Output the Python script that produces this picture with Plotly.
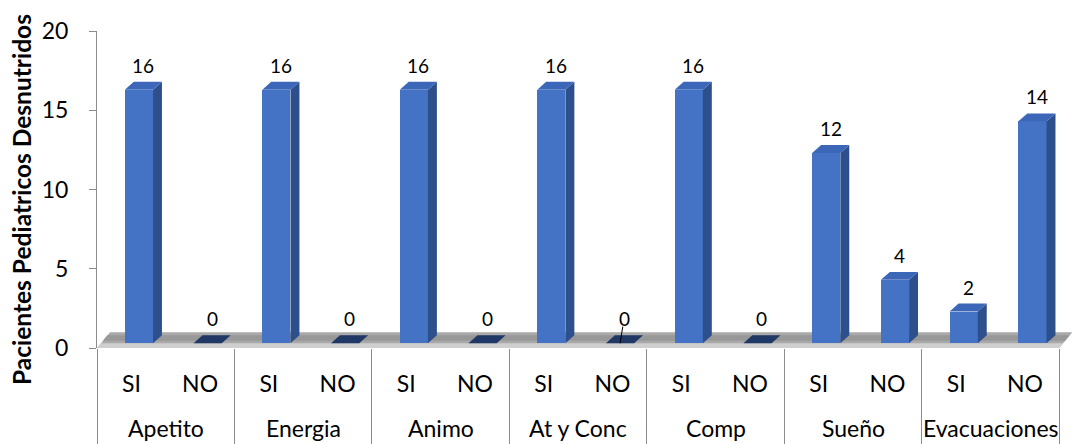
import plotly.graph_objects as go

# Survey answers per item (number of undernourished paediatric patients)
groups = ["Apetito", "Energia", "Animo", "At y Conc", "Comp", "Sueño", "Evacuaciones"]
answers = ["SI", "NO"]
si_values = [16, 16, 16, 16, 16, 12, 2]
no_values = [0, 0, 0, 0, 0, 4, 14]
y_ticks = [0, 5, 10, 15, 20]

FONT = "Lato"
FRONT = "#4472C4"
SIDE = "#2D4F8C"
TOP = "#3C67B8"
FLAT = "#1F3866"
AXIS_GREY = "#8C8C8C"

# pseudo 3-D geometry, in axis units
BAR_W = 0.41      # width of the front face
BAR_SHIFT = 0.11  # front face offset from the slot centre
DEPTH_X = 0.13    # extrusion to the right
DEPTH_Y = 0.5     # extrusion upwards
LIFT = 0.3        # bars stand on the floor, slightly above the front edge
FLOOR_DX = 0.19
FLOOR_DY = 1.0

positions, values, labels = [], [], []
for g in range(len(groups)):
    for k, ans in enumerate(answers):
        positions.append(2 * g + k)
        values.append((si_values, no_values)[k][g])
        labels.append(ans)

x_min = -0.5
x_max = len(positions) - 0.5

fig = go.Figure()

# front faces
fig.add_trace(go.Bar(
    x=[p + BAR_SHIFT for p in positions],
    y=values,
    base=LIFT,
    width=BAR_W,
    marker=dict(color=FRONT, line=dict(width=0)),
    hoverinfo="skip",
    showlegend=False,
))

shapes = []

# floor of the 3-D box
shapes.append(dict(
    type="path", xref="x", yref="y", layer="below", line=dict(width=0),
    fillcolor="#A9A9A9",
    path=f"M{x_min},0 L{x_max},0 L{x_max + FLOOR_DX},{FLOOR_DY} L{x_min + FLOOR_DX},{FLOOR_DY} Z",
))
shapes.append(dict(
    type="path", xref="x", yref="y", layer="below", line=dict(width=0),
    fillcolor="#989898",
    path=(f"M{x_min + FLOOR_DX * 0.45},{FLOOR_DY * 0.45} L{x_max + FLOOR_DX * 0.45},{FLOOR_DY * 0.45} "
          f"L{x_max + FLOOR_DX * 0.8},{FLOOR_DY * 0.8} L{x_min + FLOOR_DX * 0.8},{FLOOR_DY * 0.8} Z"),
))
shapes.append(dict(
    type="path", xref="x", yref="y", layer="below", line=dict(width=0),
    fillcolor="#CFCFCF",
    path=(f"M{x_min},0 L{x_max},0 L{x_max + FLOOR_DX * 0.3},{FLOOR_DY * 0.3} "
          f"L{x_min + FLOOR_DX * 0.3},{FLOOR_DY * 0.3} Z"),
))

annotations = []
for p, v in zip(positions, values):
    xl = p + BAR_SHIFT - BAR_W / 2
    xr = p + BAR_SHIFT + BAR_W / 2
    top = v + LIFT
    if v > 0:
        shapes.append(dict(
            type="path", xref="x", yref="y", layer="above", line=dict(width=0),
            fillcolor=SIDE,
            path=(f"M{xr},{LIFT} L{xr + DEPTH_X},{LIFT + DEPTH_Y} "
                  f"L{xr + DEPTH_X},{top + DEPTH_Y} L{xr},{top} Z"),
        ))
    shapes.append(dict(
        type="path", xref="x", yref="y", layer="above", line=dict(width=0),
        fillcolor=TOP if v > 0 else FLAT,
        path=(f"M{xl},{top} L{xl + DEPTH_X},{top + DEPTH_Y} "
              f"L{xr + DEPTH_X},{top + DEPTH_Y} L{xr},{top} Z"),
    ))
    annotations.append(dict(
        x=p + BAR_SHIFT + DEPTH_X / 2, y=top + DEPTH_Y, xref="x", yref="y",
        text=str(v), showarrow=False, yanchor="bottom", yshift=3,
        font=dict(family=FONT, size=19, color="#000000"),
    ))

# short leader line of the moved "At y Conc / NO" label
lead = positions[groups.index("At y Conc") * 2 + 1] + BAR_SHIFT
shapes.append(dict(
    type="line", xref="x", yref="y", layer="above",
    x0=lead, y0=LIFT, x1=lead + 0.04, y1=LIFT + 1.05,
    line=dict(color="#000000", width=1),
))

# group names under the SI / NO labels
for g, name in enumerate(groups):
    annotations.append(dict(
        x=2 * g + 0.5, y=0, xref="x", yref="y", text=name, showarrow=False,
        yanchor="middle", yshift=-80,
        font=dict(family=FONT, size=23, color="#000000"),
    ))

# y-axis title
annotations.append(dict(
    x=0, y=0.467, xref="paper", yref="paper", xanchor="center", yanchor="middle",
    xshift=-75, text="<b>Pacientes Pediatricos Desnutridos</b>", textangle=-90,
    showarrow=False, font=dict(family=FONT, size=24.5, color="#000000"),
))

fig.update_layout(
    width=1073, height=444, autosize=False,
    margin=dict(l=97, r=0, t=31, b=96, pad=0),
    paper_bgcolor="#FFFFFF", plot_bgcolor="#FFFFFF",
    font=dict(family=FONT, size=23, color="#000000"),
    shapes=shapes, annotations=annotations, bargap=0,
    xaxis=dict(
        range=[x_min, x_max + 0.2], tickmode="array", tickvals=positions, ticktext=labels,
        ticks="", showline=False, showgrid=False, zeroline=False,
        tickfont=dict(family=FONT, size=23, color="#000000"), ticklabelstandoff=20,
        minor=dict(tickmode="array", tickvals=[2 * g - 0.5 for g in range(len(groups) + 1)],
                   ticks="outside", ticklen=96, tickcolor=AXIS_GREY, tickwidth=1, showgrid=False),
    ),
    yaxis=dict(
        range=[0, 20], tickmode="array", tickvals=y_ticks, ticks="outside", ticklen=7,
        tickcolor=AXIS_GREY, showline=True, linecolor=AXIS_GREY, linewidth=1,
        showgrid=False, zeroline=False,
        tickfont=dict(family=FONT, size=23, color="#000000"), ticklabelstandoff=16,
    ),
)

fig.write_html("out.html")
